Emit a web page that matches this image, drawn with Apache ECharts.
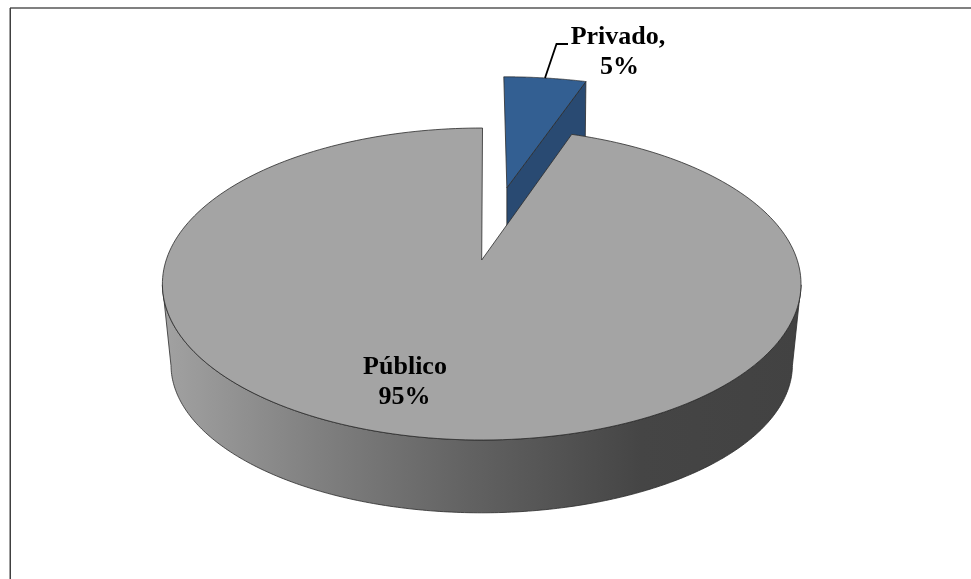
<!DOCTYPE html>
<html><head><meta charset="utf-8">
<style>html,body{margin:0;padding:0;background:#fff}#c{width:971px;height:579px}</style>
<script src="https://cdn.jsdelivr.net/npm/echarts@6/dist/echarts.min.js"></script>
</head><body><div id="c"></div>
<script>
var categories = ['Privado', 'Público'];
var values = [5, 95];
var percentLabels = ['5%', '95%'];
var sliceColors = ['#335f92', '#a4a4a4'];
var cutColor = '#294a72';
var wallStops = [[0, '#a2a2a2'], [0.22, '#838383'], [0.48, '#626262'], [0.75, '#454545'], [1, '#424242']];

var total = values[0] + values[1];
var privadoSweep = values[0] / total * 2 * Math.PI;

// perspective model of the disc
var cx = 481.7, cy = 260, A = 315.5, B = 152.3, k = 0.154;
var A2 = 307, B2 = 144.5, cy2 = 342;
var explode = 0.517;
var gapFit = 1.06;
var font = 'bold 26px "Liberation Serif"';

function proj(u, v, bottom) {
  var w = 1 / (1 - k * v);
  return [cx + (bottom ? A2 : A) * u * w, (bottom ? cy2 : cy) + (bottom ? B2 : B) * v * w];
}
function rim(t, ox, oy, bottom) {
  return proj(ox + Math.sin(t), oy - Math.cos(t), bottom);
}
function arc(t0, t1, ox, oy, bottom) {
  var pts = [], n = 240;
  for (var i = 0; i <= n; i++) pts.push(rim(t0 + (t1 - t0) * i / n, ox, oy, bottom));
  return pts;
}
function styled(fill) { return { fill: fill, stroke: '#2b2b2b', lineWidth: 0.8, lineJoin: 'round' }; }
function label(x, y, text) {
  return { type: 'text', style: { x: x, y: y, text: text, fill: '#000', font: font, align: 'center', verticalAlign: 'middle' } };
}

function renderSlice(params, api) {
  var i = params.dataIndex, g = [];
  if (i === 0) {
    var mid = privadoSweep / 2;
    var ox = explode * Math.sin(mid), oy = -explode * Math.cos(mid);
    var a = proj(ox, oy);
    // small correction of the far slice about its apex
    var fit = function (p) { return [a[0] + 1.5 + (p[0] - a[0]) * 1.03, a[1] + (p[1] - a[1]) * 0.97]; };
    var ab = proj(ox, oy, true);
    var r0 = rim(privadoSweep, ox, oy), r0b = rim(privadoSweep, ox, oy, true);
    var cut = [fit(a), fit(r0), [fit(r0)[0] - 1, r0b[1]], [fit(a)[0], ab[1]]];
    g.push({ type: 'polygon', shape: { points: cut }, style: styled(cutColor) });
    g.push({ type: 'polygon', shape: { points: [a].concat(arc(0, privadoSweep, ox, oy)).map(fit) }, style: styled(sliceColors[0]) });
    g.push({ type: 'polyline', shape: { points: [[545, 78], [556.5, 44], [568, 44]] }, style: { stroke: '#000', lineWidth: 1.8, fill: null } });
    g.push(label(618, 37, categories[0] + ','));
    g.push(label(619.5, 67, percentLabels[0]));
  } else {
    var sr = Math.PI / 2 + 0.16, sl = 3 * Math.PI / 2 - 0.16;
    var wall = arc(sl, sr, 0, 0).concat(arc(sl, sr, 0, 0, true).reverse());
    var stops = wallStops.map(function (s) { return { offset: s[0], color: s[1] }; });
    g.push({ type: 'polygon', shape: { points: wall }, style: styled({ type: 'linear', x: 0, y: 0, x2: 1, y2: 0, colorStops: stops }) });
    g.push({ type: 'polygon', shape: { points: [proj(0, 0)].concat(arc(privadoSweep * gapFit, 2 * Math.PI + 0.003, 0, 0)) }, style: styled(sliceColors[1]) });
    g.push(label(405, 367, categories[1]));
    g.push(label(404.5, 397, percentLabels[1]));
  }
  return { type: 'group', children: g };
}

var chart = echarts.init(document.getElementById('c'), null, { renderer: 'canvas' });
chart.setOption({
  animation: false,
  backgroundColor: '#fff',
  graphic: [
    { type: 'line', silent: true, shape: { x1: 10, y1: 8, x2: 971, y2: 8 }, style: { stroke: '#808080', lineWidth: 2 } },
    { type: 'line', silent: true, shape: { x1: 10.25, y1: 8, x2: 10.25, y2: 579 }, style: { stroke: '#404040', lineWidth: 1.5 } }
  ],
  series: [{
    type: 'custom', coordinateSystem: 'none', renderItem: renderSlice, silent: true,
    data: values.map(function (v, i) { return { name: categories[i], value: v }; })
  }]
});
</script></body></html>
